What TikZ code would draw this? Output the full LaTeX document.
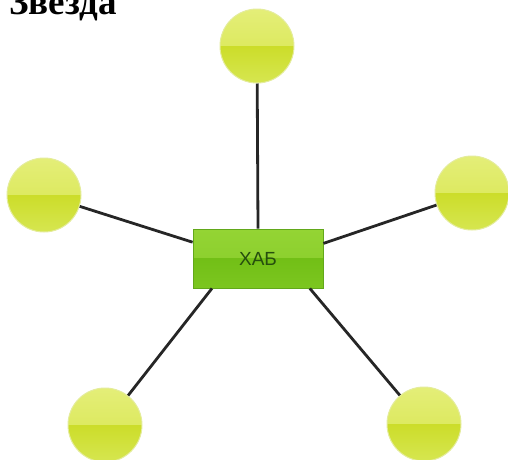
\documentclass[tikz,border=0pt]{standalone}
\usepackage{fontspec}
\setmainfont{Liberation Serif}
\newfontfamily\hubfont{Liberation Sans}

\definecolor{balltop}{HTML}{E4EE78}
\definecolor{ballmid}{HTML}{D6E54A}
\definecolor{balllow}{HTML}{CCDD2A}
\definecolor{ballbot}{HTML}{D6E650}
\definecolor{ballrim}{HTML}{E4EC9C}
\definecolor{hubtop}{HTML}{94D434}
\definecolor{hubmid}{HTML}{86CC28}
\definecolor{hublow}{HTML}{72BF16}
\definecolor{hubbot}{HTML}{7CC620}
\definecolor{hubrim}{HTML}{62A81A}
\definecolor{hubtext}{HTML}{264E0E}

\begin{document}
\begin{tikzpicture}
		[x=1pt,y=-1pt,
		main node/.style={shape=circle,draw=ballrim,line width=1pt,inner sep=0pt,minimum size=74pt,
			path picture={
				\shade[top color=balltop,bottom color=ballmid] (path picture bounding box.north west) rectangle (path picture bounding box.east);
				\shade[top color=balllow,bottom color=ballbot] (path picture bounding box.west) rectangle (path picture bounding box.south east);
			}},
		hub node/.style={shape=rectangle,draw=hubrim,line width=.8pt,inner sep=0pt,minimum width=130pt,minimum height=59pt,
			font=\hubfont\fontsize{19}{22}\selectfont,text=hubtext,
			path picture={
				\shade[top color=hubtop,bottom color=hubmid] (path picture bounding box.north west) rectangle (path picture bounding box.east);
				\shade[top color=hublow,bottom color=hubbot] (path picture bounding box.west) rectangle (path picture bounding box.south east);
			}}
		]
		\useasboundingbox (0,0) rectangle (508,459);
		
		\node [anchor=base west,inner sep=0pt,font=\fontsize{37}{42}\selectfont\bfseries] (title) at (9,14) {Звезда};
		
		\node [hub node] (hub) at (258,258.5) {ХАБ};
		
		\node [main node] (1) at (257,46) {};
		\node [main node] (2) at (44,195) {};
		\node [main node] (3) at (472,193) {};
		\node [main node] (4) at (105,425) {};
		\node [main node] (5) at (424,424) {};
		
		\path[line width=2.8pt,draw=black!85]
		(1) edge (hub.north)
		(2) edge (hub.166.6)
		(3) edge (hub.13.4)
		(4) edge (hub.213.2)
		(5) edge (hub.330.4)
		;
		
		\end{tikzpicture}
\end{document}
